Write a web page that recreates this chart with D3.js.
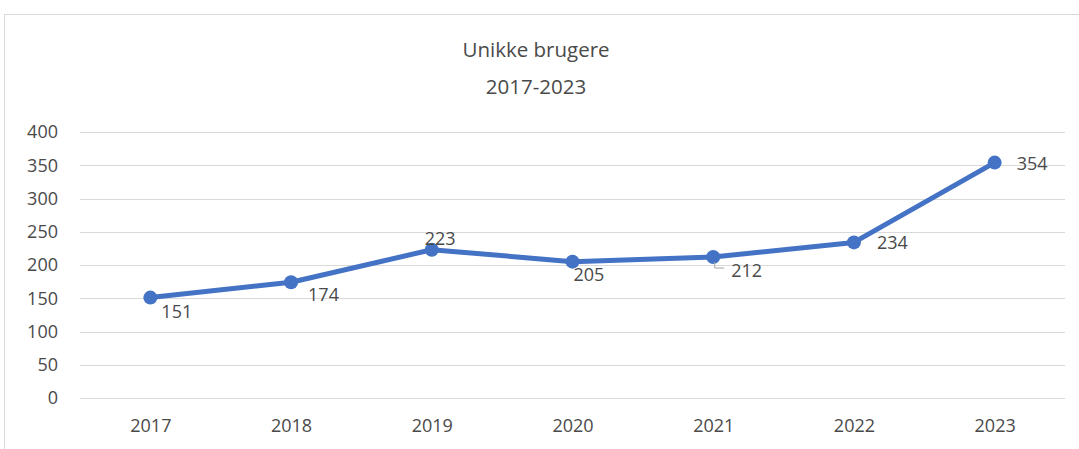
<!DOCTYPE html>
<html>
<head>
<meta charset="utf-8">
<script src="https://cdn.jsdelivr.net/npm/d3@7"></script>
<style>
  body { margin: 0; background: #fff; }
  svg { display: block; }
  text { font-family: "Open Sans", "Liberation Sans", sans-serif; fill: #4a4a4a; }
</style>
</head>
<body>
<svg id="chart" width="1079" height="449"></svg>
<script>
const categories = ["2017", "2018", "2019", "2020", "2021", "2022", "2023"];
const values = [151, 174, 223, 205, 212, 234, 354];
const yTicks = [0, 50, 100, 150, 200, 250, 300, 350, 400];
const titleLines = ["Unikke brugere", "2017-2023"];

const svg = d3.select("#chart");
const W = 1079, H = 449;
const plot = { left: 80, right: 1065, top: 132, bottom: 398 };

// chart border
svg.append("rect").attr("x", 4.5).attr("y", 14.5).attr("width", W + 10).attr("height", H + 10)
  .attr("fill", "none").attr("stroke", "#d9d9d9").attr("stroke-width", 1);

const x = d3.scalePoint().domain(categories).range([plot.left, plot.right]).padding(0.5);
const y = d3.scaleLinear().domain([0, 400]).range([plot.bottom, plot.top]);

// gridlines
svg.append("g").selectAll("line").data(yTicks).join("line")
  .attr("x1", plot.left).attr("x2", plot.right)
  .attr("y1", d => Math.round(y(d)) + 0.5).attr("y2", d => Math.round(y(d)) + 0.5)
  .attr("stroke", "#d9d9d9").attr("stroke-width", 1);

// y axis
const yAxis = svg.append("g").attr("transform", `translate(${plot.left},0)`)
  .call(d3.axisLeft(y).tickValues(yTicks).tickSize(0).tickPadding(22));
yAxis.select(".domain").remove();
yAxis.selectAll("text").style("font-size", "18px").attr("fill", "#4a4a4a");

// x axis
const xAxis = svg.append("g").attr("transform", `translate(0,${plot.bottom})`)
  .call(d3.axisBottom(x).tickSize(0).tickPadding(21));
xAxis.select(".domain").remove();
xAxis.selectAll("text").style("font-size", "18px").attr("fill", "#4a4a4a");

// title
svg.append("g").selectAll("text").data(titleLines).join("text")
  .attr("x", 536).attr("y", (d, i) => 57 + i * 37)
  .attr("text-anchor", "middle").style("font-size", "20.5px").text(d => d);

// line
const pts = categories.map((c, i) => ({ c, v: values[i] }));
svg.append("path").datum(pts)
  .attr("fill", "none").attr("stroke", "#4472C4").attr("stroke-width", 5)
  .attr("stroke-linejoin", "round")
  .attr("d", d3.line().x(d => x(d.c)).y(d => y(d.v)));

svg.append("g").selectAll("circle").data(pts).join("circle")
  .attr("cx", d => x(d.c)).attr("cy", d => y(d.v)).attr("r", 7).attr("fill", "#4472C4");

// data labels (placement offsets relative to point)
const labelOffsets = [[11, 20], [17, 19], [-7, -5], [1, 19], [18, 20], [23, 7], [22, 7]];
svg.append("g").selectAll("text").data(pts).join("text")
  .attr("x", (d, i) => x(d.c) + labelOffsets[i][0])
  .attr("y", (d, i) => y(d.v) + labelOffsets[i][1])
  .style("font-size", "18px").text(d => d.v);

// leader line for 2021 label
const p21 = pts[4];
const lx = x(p21.c), ly = y(p21.v);
svg.append("path")
  .attr("d", `M${lx + 1.5},${ly + 5} V${ly + 11} H${lx + 11}`)
  .attr("fill", "none").attr("stroke", "#a6a6a6").attr("stroke-width", 1);
</script>
</body>
</html>
